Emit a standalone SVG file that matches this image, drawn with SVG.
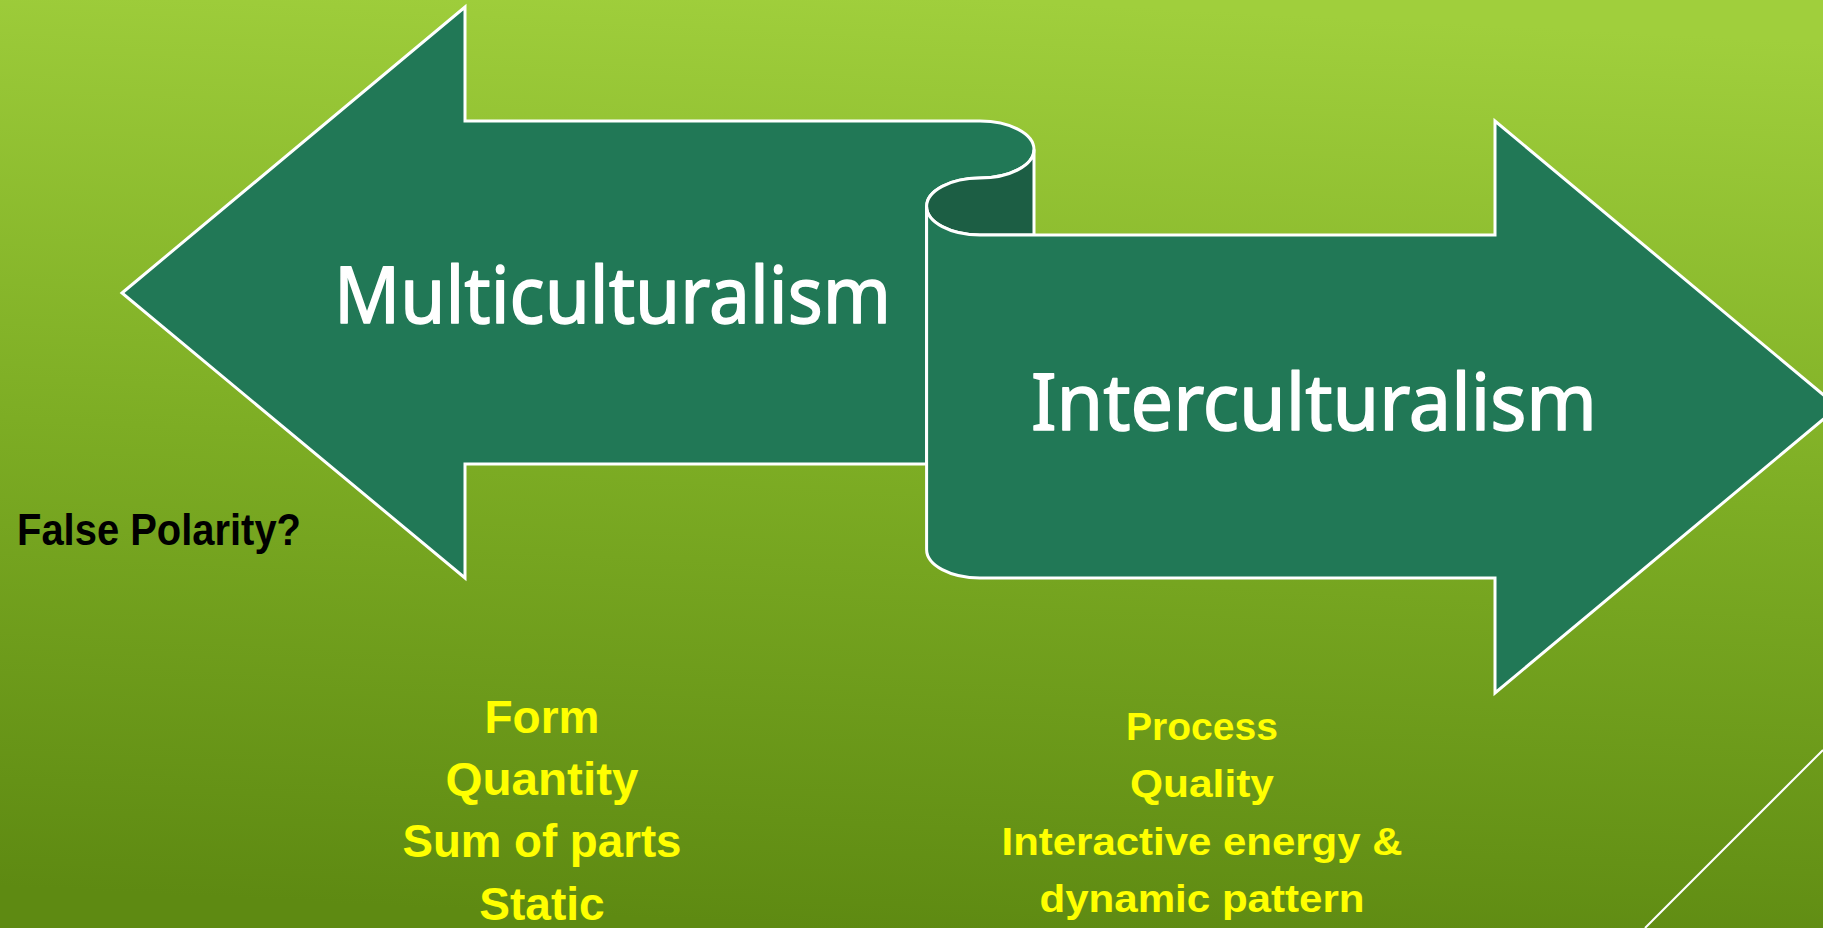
<svg xmlns="http://www.w3.org/2000/svg" width="1823" height="928" viewBox="0 0 1823 928">
  <defs>
    <linearGradient id="bg" x1="0.55" y1="0" x2="0.45" y2="1">
      <stop offset="0" stop-color="#a0cf3c"/>
      <stop offset="0.5" stop-color="#7dad24"/>
      <stop offset="1" stop-color="#5e8a12"/>
    </linearGradient>
  </defs>
  <style>
    .shape { fill: #217856; stroke: #ffffff; stroke-width: 3; stroke-linejoin: miter; }
    .curl { fill: #1c5e44; stroke: #ffffff; stroke-width: 3; }
    .big { font-family: "Noto Sans", "DejaVu Sans", sans-serif; fill: #ffffff; stroke: #ffffff; stroke-width: 1.5; stroke-linejoin: round; font-size: 78px; }
    .yel { font-family: "Liberation Sans", Arial, sans-serif; font-weight: bold; fill: #ffff00; text-anchor: middle; }
    .blk { font-family: "Liberation Sans", Arial, sans-serif; font-weight: bold; fill: #000000; font-size: 44px; }
  </style>
  <rect x="0" y="0" width="1823" height="928" fill="url(#bg)"/>

  <g id="connectors">
    <line x1="1823" y1="750" x2="1645" y2="928" stroke="#ffffff" stroke-width="2"/>
  </g>

  <g id="multiculturalism">
    <path class="shape" d="M122,293 L465,7 L465,121 L980,121 A54,28.5 0 0 1 1034,149.5 A54,28.5 0 0 1 980,178 A53.4,28.5 0 0 0 926.6,206.5 L926.6,464 L465,464 L465,578 Z"/>
    <path class="curl" d="M980,178 A53.4,28.5 0 0 0 926.6,206.5 A53.4,28.5 0 0 0 980,235 L1034,235 L1034,149.5 A54,28.5 0 0 1 980,178 Z"/>
    <text class="big" x="334" y="323" textLength="557" lengthAdjust="spacingAndGlyphs">Multiculturalism</text>
  </g>

  <g id="interculturalism">
    <path class="shape" d="M926.6,206.5 A53.4,28.5 0 0 0 980,235 L1495,235 L1495,121 L1838,407 L1495,693 L1495,578 L980,578 A53.4,28.5 0 0 1 926.6,549.5 Z"/>
    <text class="big" x="1031" y="430" textLength="566" lengthAdjust="spacingAndGlyphs">Interculturalism</text>
  </g>

  <g id="false-polarity">
    <text class="blk" x="17" y="545" textLength="284" lengthAdjust="spacingAndGlyphs">False Polarity?</text>
  </g>

  <g id="multi-traits">
    <text class="yel" font-size="46" x="542" y="733">Form</text>
    <text class="yel" font-size="46" x="542" y="795" textLength="193" lengthAdjust="spacingAndGlyphs">Quantity</text>
    <text class="yel" font-size="46" x="542" y="857" textLength="279" lengthAdjust="spacingAndGlyphs">Sum of parts</text>
    <text class="yel" font-size="46" x="542" y="920">Static</text>
  </g>

  <g id="inter-traits">
    <text class="yel" font-size="39" x="1202" y="740">Process</text>
    <text class="yel" font-size="39" x="1202" y="797" textLength="144" lengthAdjust="spacingAndGlyphs">Quality</text>
    <text class="yel" font-size="39" x="1202" y="855" textLength="401" lengthAdjust="spacingAndGlyphs">Interactive energy &amp;</text>
    <text class="yel" font-size="39" x="1202" y="912" textLength="325" lengthAdjust="spacingAndGlyphs">dynamic pattern</text>
  </g>
</svg>
